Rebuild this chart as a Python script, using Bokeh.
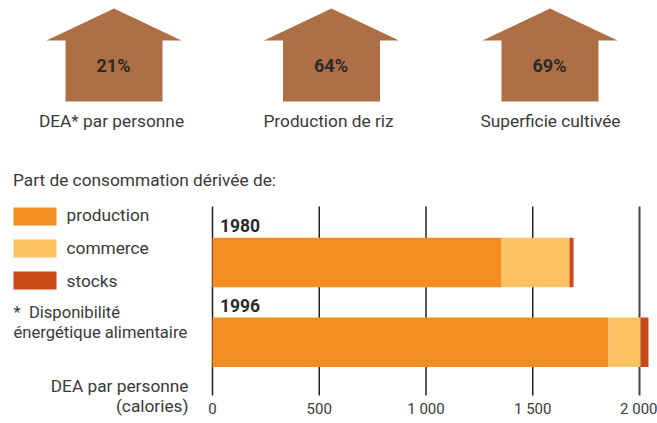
from bokeh.plotting import figure
from bokeh.models import Range1d, Label, LinearAxis, FixedTicker
from bokeh.embed import file_html
from bokeh.resources import INLINE

# ---- data ----
years = ["1980", "1996"]
production = [1354, 1855]
commerce = [318, 150]
stocks = [19, 37]
house_labels = ["DEA* par personne", "Production de riz", "Superficie cultivée"]
house_values = ["21%", "64%", "69%"]
legend_labels = ["production", "commerce", "stocks"]
tick_values = [0, 500, 1000, 1500, 2000]
tick_labels = ["0", "500", "1 000", "1 500", "2 000"]

# ---- style / layout ----
FONT = "Roboto"
TXT = "#3a3a3a"
COLORS = ["#F68D20", "#FDC263", "#C84B18"]
HOUSE = "#AE6F47"
PX0, PXU = 212.0, 0.2135
PAGE_L, PAGE_R, PAGE_T, PAGE_B = 0, 657, 1, 424

p = figure(frame_width=PAGE_R - PAGE_L, frame_height=PAGE_B - PAGE_T,
           x_range=Range1d((PAGE_L - PX0) / PXU, (PAGE_R - PX0) / PXU),
           y_range=Range1d(PAGE_B, PAGE_T),
           output_backend="svg", toolbar_location=None, x_axis_location=None,
           y_axis_location=None, min_border=0,
           outline_line_color=None, background_fill_color="white",
           border_fill_color="white")
p.grid.visible = False
p.extra_x_ranges = {"page": Range1d(PAGE_L, PAGE_R)}

axis = LinearAxis(ticker=FixedTicker(ticks=tick_values),
                  major_label_overrides=dict(zip(tick_values, tick_labels)),
                  fixed_location=397,
                  axis_line_color=None, major_tick_line_color=None,
                  minor_tick_line_color=None, major_label_standoff=-3,
                  major_label_text_font=FONT, major_label_text_font_size="15px",
                  major_label_text_color=TXT)
p.add_layout(axis, "below")


def label(x, y, text, size=17.3, align="left", bold=False, color=TXT):
    p.add_layout(Label(x=x, y=y, x_range_name="page", text=text,
                       text_font=FONT, text_font_size=f"{size}px",
                       text_color=color, text_align=align,
                       text_baseline="middle",
                       text_font_style="bold" if bold else "normal"))


# houses
centers = [113.5, 331, 549.5]
for cx, val in zip(centers, house_values):
    p.patch([cx, cx + 67.5, cx + 48.5, cx + 48.5, cx - 48.5, cx - 48.5, cx - 67.5],
            [9, 41, 41, 102, 102, 41, 41],
            fill_color=HOUSE, line_color=None, x_range_name="page")
    label(cx - 0.5, 65.5, val, size=18, align="center", bold=True, color="#2a2a2a")
for cx, txt in zip([111, 328, 550], house_labels):
    label(cx, 121, txt, align="center")

label(12.5, 180.5, "Part de consommation dérivée de:")

# legend
for y0, ty, c, txt in zip([208, 240, 272], [215.5, 248.5, 281.5], COLORS, legend_labels):
    p.quad(left=13, right=56, top=y0, bottom=y0 + 18, fill_color=c,
           line_color=None, x_range_name="page")
    label(66, ty, txt)
label(13, 312.5, "*\u00a0\u00a0Disponibilité", size=16.6)
label(13, 332.5, "énergétique alimentaire", size=16.6)
label(188, 386, "DEA par personne", align="right")
label(188, 406, "(calories)", align="right")

# gridlines
widths = [1.5, 1.5, 1.5, 1.5, 2]
cols = ["#222222", "#222222", "#222222", "#222222", "#444444"]
p.segment(x0=tick_values, x1=tick_values, y0=[207] * 5, y1=[396] * 5,
          line_color=cols, line_width=widths)

# bars
bar_y = [263, 342.75]
left = [0, 0]
for vals, c in zip([production, commerce, stocks], COLORS):
    right = [a + b for a, b in zip(left, vals)]
    p.hbar(y=bar_y, left=left, right=right, height=49.5, fill_color=c, line_color=None)
    left = right

for y, yr in zip([226, 305.5], years):
    label(219.5, y, yr, size=17.5, bold=True, color="#2a2a2a")

open("out.html", "w").write(file_html(p, INLINE))
